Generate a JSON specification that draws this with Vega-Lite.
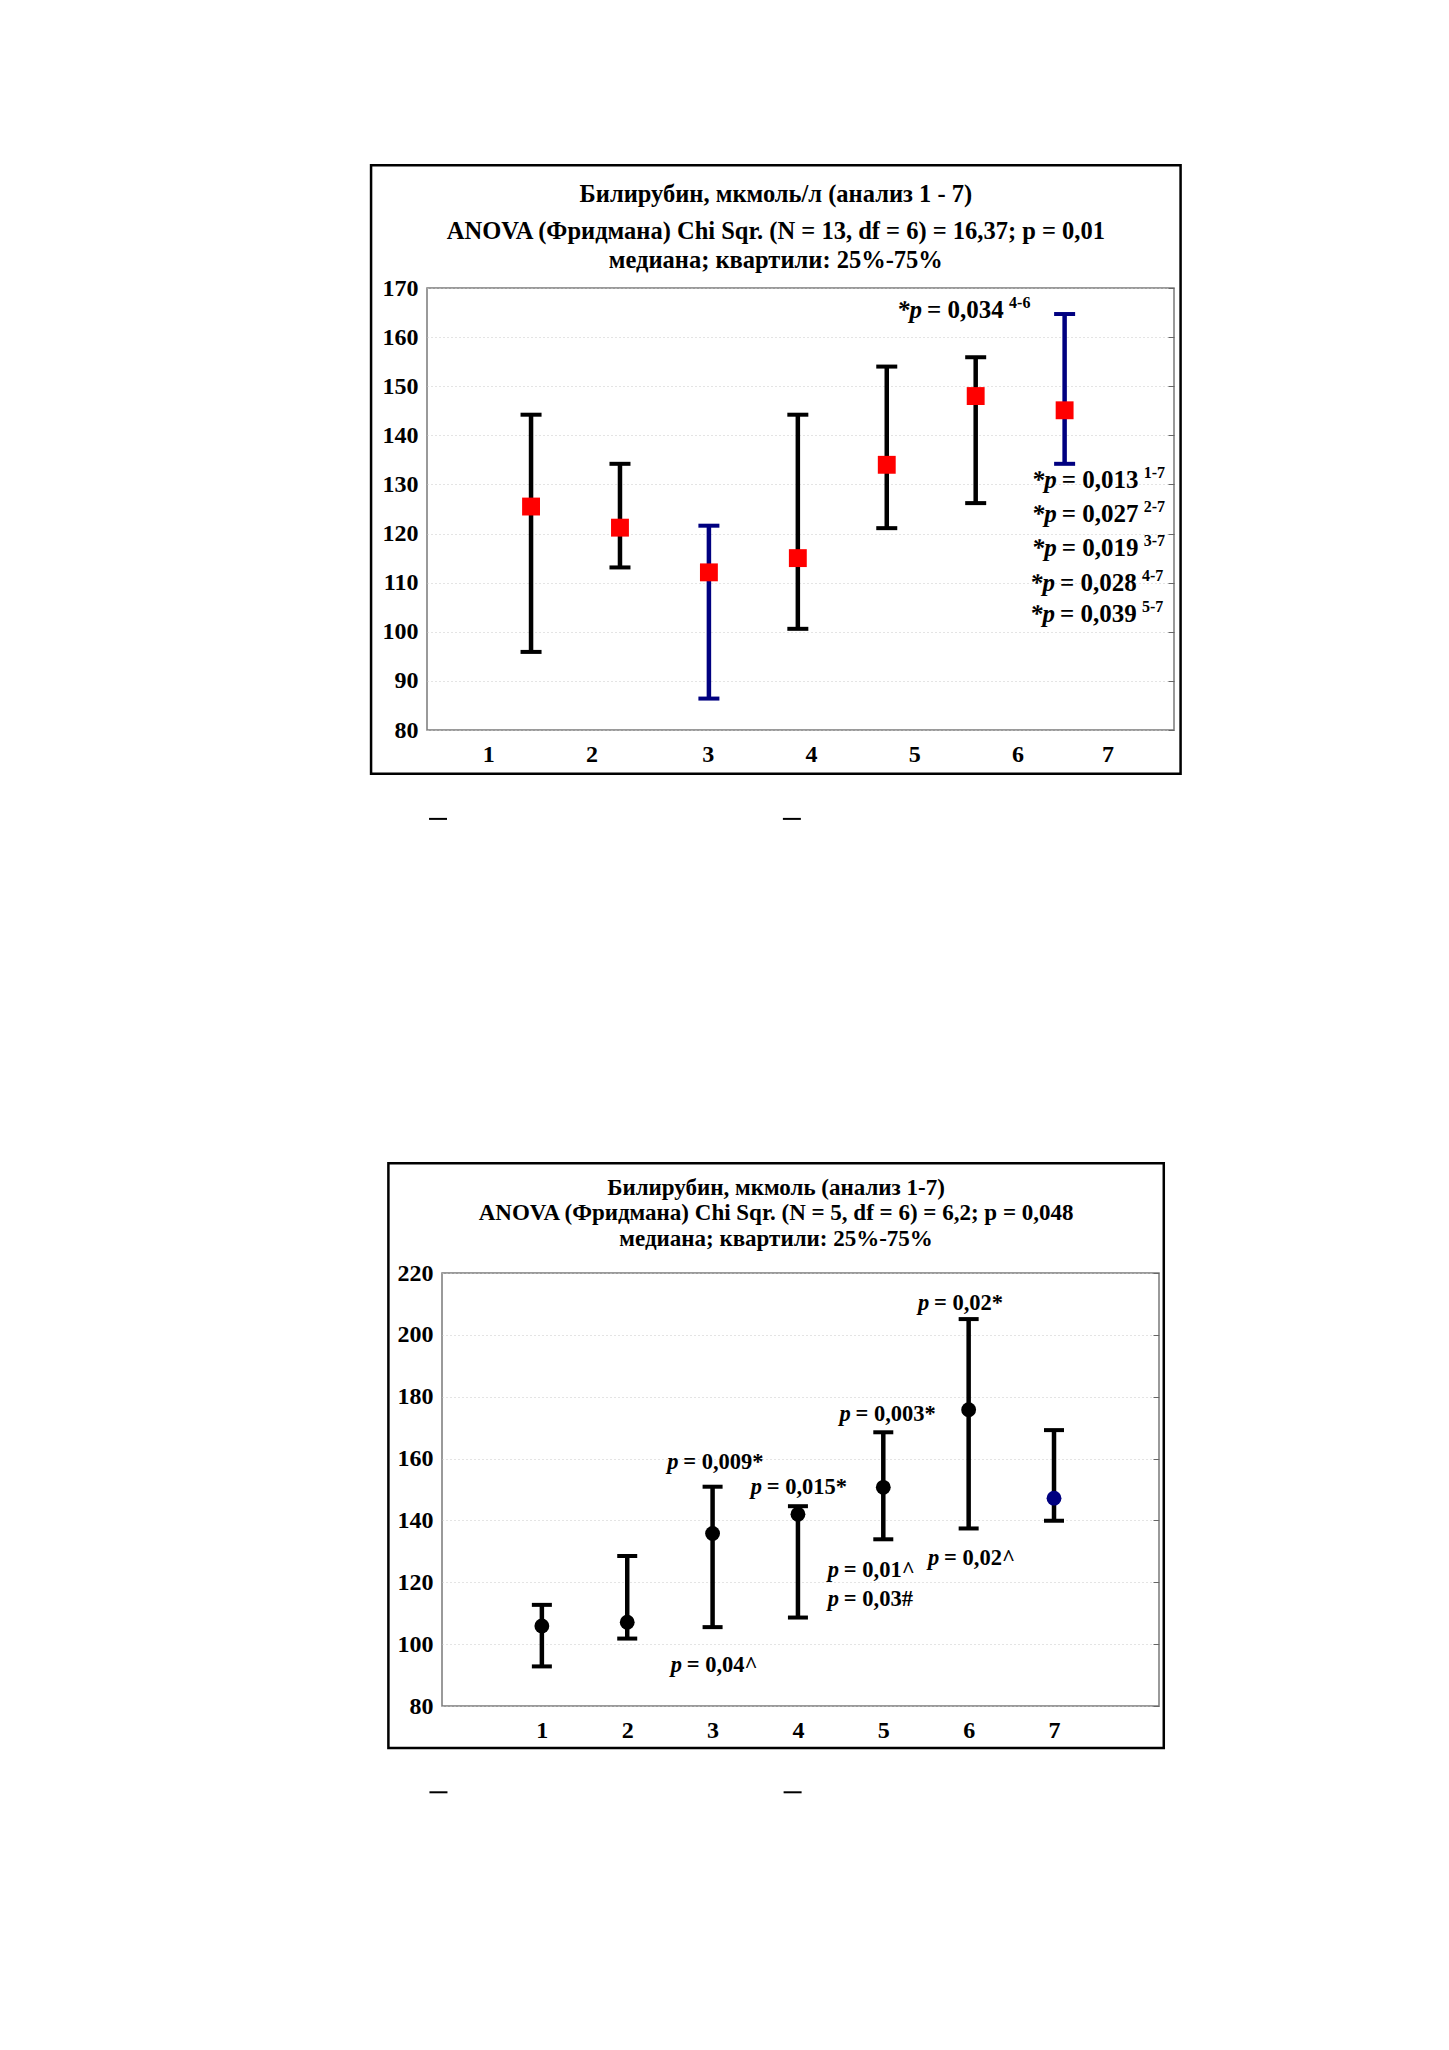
{
  "$schema": "https://vega.github.io/schema/vega-lite/v6.json",
  "background": "#ffffff",
  "autosize": {"type": "pad"},
  "padding": {"left": 369, "top": 163, "right": 10, "bottom": 10},
  "bounds": "flush",
  "center": true,
  "spacing": 543,
  "config": {
    "font": "Liberation Serif",
    "view": {"stroke": "#7a7a7a", "strokeWidth": 1.5},
    "axis": {"labelFont": "Liberation Serif", "labelFontSize": 24, "labelFontWeight": "bold", "labelColor": "#000000", "domain": false, "ticks": false, "grid": false},
    "text": {"font": "Liberation Serif", "fontWeight": "bold", "color": "#000000", "baseline": "middle", "align": "left"}
  },
  "datasets": {
    "topStats": [
      {"g": 1, "lo": 95.9, "med": 125.5, "hi": 144.2, "hl": "no"},
      {"g": 2, "lo": 113.1, "med": 121.2, "hi": 134.2, "hl": "no"},
      {"g": 3, "lo": 86.4, "med": 112.1, "hi": 121.6, "hl": "yes"},
      {"g": 4, "lo": 100.6, "med": 115.0, "hi": 144.2, "hl": "no"},
      {"g": 5, "lo": 121.1, "med": 134.0, "hi": 154.0, "hl": "no"},
      {"g": 6, "lo": 126.2, "med": 148.0, "hi": 155.9, "hl": "no"},
      {"g": 7, "lo": 134.2, "med": 145.1, "hi": 164.7, "hl": "yes"}
    ],
    "topNotes": [
      {"ax": 5.116, "ay": 165.6, "val": "= 0,034", "sup": "4-6"},
      {"ax": 6.63, "ay": 131.0, "val": "= 0,013", "sup": "1-7"},
      {"ax": 6.63, "ay": 124.0, "val": "= 0,027", "sup": "2-7"},
      {"ax": 6.63, "ay": 117.05, "val": "= 0,019", "sup": "3-7"},
      {"ax": 6.61, "ay": 109.9, "val": "= 0,028", "sup": "4-7"},
      {"ax": 6.61, "ay": 103.7, "val": "= 0,039", "sup": "5-7"}
    ],
    "botStats": [
      {"g": 1, "lo": 92.8, "med": 105.9, "hi": 112.7, "hl": "no"},
      {"g": 2, "lo": 101.8, "med": 107.1, "hi": 128.5, "hl": "no"},
      {"g": 3, "lo": 105.5, "med": 135.8, "hi": 150.9, "hl": "no"},
      {"g": 4, "lo": 108.6, "med": 142.0, "hi": 144.6, "hl": "no"},
      {"g": 5, "lo": 133.9, "med": 150.7, "hi": 168.5, "hl": "no"},
      {"g": 6, "lo": 137.4, "med": 175.8, "hi": 205.1, "hl": "no"},
      {"g": 7, "lo": 139.9, "med": 147.2, "hi": 169.2, "hl": "yes"}
    ],
    "botNotes": [
      {"ax": 5.407, "ay": 210.4, "val": "= 0,02*"},
      {"ax": 4.487, "ay": 174.3, "val": "= 0,003*"},
      {"ax": 2.469, "ay": 158.9, "val": "= 0,009*"},
      {"ax": 3.447, "ay": 150.7, "val": "= 0,015*"},
      {"ax": 4.35, "ay": 123.9, "val": "= 0,01^"},
      {"ax": 4.35, "ay": 114.6, "val": "= 0,03#"},
      {"ax": 5.525, "ay": 127.7, "val": "= 0,02^"},
      {"ax": 2.51, "ay": 93.4, "val": "= 0,04^"}
    ]
  },
  "vconcat": [
    {
      "width": 747,
      "height": 442,
      "title": {
        "text": "Билирубин, мкмоль/л (анализ 1 - 7)",
        "subtitle": ["ANOVA (Фридмана) Chi Sqr. (N = 13, df = 6) = 16,37; p = 0,01", "медиана; квартили: 25%-75%"],
        "anchor": "middle", "frame": "bounds",
        "font": "Liberation Serif", "fontSize": 24.5, "fontWeight": "bold", "color": "#000000",
        "subtitleFont": "Liberation Serif", "subtitleFontSize": 24.5, "subtitleFontWeight": "bold", "subtitleColor": "#000000",
        "subtitleLineHeight": 29, "subtitlePadding": 12.5, "offset": -109.5
      },
      "resolve": {"axis": {"y": "independent"}},
      "layer": [
        {
          "data": {"values": [{}]},
          "mark": {"type": "rect", "filled": false, "stroke": "#000000", "strokeWidth": 2.5},
          "encoding": {
            "x": {"datum": -0.799, "type": "quantitative", "title": null, "scale": {"domain": [-0.17, 8.23], "nice": false, "zero": false}},
            "x2": {"datum": 8.304},
            "y": {"datum": 71.1, "type": "quantitative", "title": null, "axis": null, "scale": {"domain": [80, 170], "nice": false, "zero": false}},
            "y2": {"datum": 195.0}
          }
        },
        {
          "data": {"values": [{}]},
          "mark": {"type": "rule", "stroke": "#000000", "strokeWidth": 2},
          "encoding": {
            "x": {"datum": -0.147, "type": "quantitative", "title": null},
            "x2": {"datum": 0.055},
            "y": {"datum": 61.9, "type": "quantitative", "title": null, "axis": null}
          }
        },
        {
          "data": {"values": [{}]},
          "mark": {"type": "rule", "stroke": "#000000", "strokeWidth": 2},
          "encoding": {
            "x": {"datum": 3.832, "type": "quantitative", "title": null},
            "x2": {"datum": 4.034},
            "y": {"datum": 61.9, "type": "quantitative", "title": null, "axis": null}
          }
        },
        {
          "data": {"name": "topStats"},
          "mark": {"type": "rule", "strokeWidth": 4.5},
          "encoding": {
            "x": {"field": "g", "type": "quantitative", "title": null,
              "axis": {"values": [0.518, 1.679, 2.988, 4.149, 5.309, 6.47, 7.483],
                "labelExpr": "datum.value < 1 ? '1' : datum.value < 2 ? '2' : datum.value < 3.5 ? '3' : datum.value < 4.5 ? '4' : datum.value < 5.8 ? '5' : datum.value < 7 ? '6' : '7'",
                "labelPadding": 12, "grid": false, "ticks": false, "domain": false}},
            "y": {"field": "lo", "type": "quantitative", "title": null,
              "axis": {"orient": "left", "values": [80, 90, 100, 110, 120, 130, 140, 150, 160, 170], "labelPadding": 9, "grid": true, "gridColor": "#c8c8c8", "gridDash": [1, 3], "gridWidth": 1, "ticks": false, "domain": false}},
            "y2": {"field": "hi"},
            "color": {"field": "hl", "type": "nominal", "scale": {"domain": ["no", "yes"], "range": ["#000000", "#000080"]}, "legend": null}
          }
        },
        {
          "data": {"name": "topStats"},
          "mark": {"type": "tick", "orient": "horizontal", "size": 21, "thickness": 4, "opacity": 1},
          "encoding": {
            "x": {"field": "g", "type": "quantitative", "title": null},
            "y": {"field": "lo", "type": "quantitative", "title": null,
              "axis": {"orient": "right", "values": [80, 90, 100, 110, 120, 130, 140, 150, 160, 170], "labels": false, "ticks": true, "tickSize": -6, "tickColor": "#666666", "tickWidth": 1, "domain": false, "grid": false}},
            "color": {"field": "hl", "type": "nominal", "legend": null}
          }
        },
        {
          "data": {"name": "topStats"},
          "mark": {"type": "tick", "orient": "horizontal", "size": 21, "thickness": 4, "opacity": 1},
          "encoding": {
            "x": {"field": "g", "type": "quantitative", "title": null},
            "y": {"field": "hi", "type": "quantitative", "title": null, "axis": null},
            "color": {"field": "hl", "type": "nominal", "legend": null}
          }
        },
        {
          "data": {"name": "topStats"},
          "mark": {"type": "point", "shape": "square", "filled": true, "color": "#ff0000", "size": 320, "opacity": 1},
          "encoding": {
            "x": {"field": "g", "type": "quantitative", "title": null},
            "y": {"field": "med", "type": "quantitative", "title": null, "axis": null}
          }
        },
        {
          "data": {"name": "topNotes"},
          "mark": {"type": "text", "text": "*p", "fontStyle": "italic", "fontSize": 25},
          "encoding": {
            "x": {"field": "ax", "type": "quantitative", "title": null},
            "y": {"field": "ay", "type": "quantitative", "title": null, "axis": null}
          }
        },
        {
          "data": {"name": "topNotes"},
          "mark": {"type": "text", "fontSize": 25, "dx": 30},
          "encoding": {
            "x": {"field": "ax", "type": "quantitative", "title": null},
            "y": {"field": "ay", "type": "quantitative", "title": null, "axis": null},
            "text": {"field": "val"}
          }
        },
        {
          "data": {"name": "topNotes"},
          "mark": {"type": "text", "fontSize": 16, "dx": 112, "dy": -7},
          "encoding": {
            "x": {"field": "ax", "type": "quantitative", "title": null},
            "y": {"field": "ay", "type": "quantitative", "title": null, "axis": null},
            "text": {"field": "sup"}
          }
        }
      ]
    },
    {
      "width": 717,
      "height": 433,
      "title": {
        "text": "Билирубин, мкмоль (анализ 1-7)",
        "subtitle": ["ANOVA (Фридмана) Chi Sqr. (N = 5, df = 6) = 6,2; p = 0,048", "медиана; квартили: 25%-75%"],
        "anchor": "middle", "frame": "bounds",
        "font": "Liberation Serif", "fontSize": 23, "fontWeight": "bold", "color": "#000000",
        "subtitleFont": "Liberation Serif", "subtitleFontSize": 23, "subtitleFontWeight": "bold", "subtitleColor": "#000000",
        "subtitleLineHeight": 25.5, "subtitlePadding": 2.5, "offset": -89
      },
      "resolve": {"axis": {"y": "independent"}},
      "layer": [
        {
          "data": {"values": [{}]},
          "mark": {"type": "rect", "filled": false, "stroke": "#000000", "strokeWidth": 2.5},
          "encoding": {
            "x": {"datum": -0.798, "type": "quantitative", "title": null, "scale": {"domain": [-0.17, 8.23], "nice": false, "zero": false}},
            "x2": {"datum": 8.286},
            "y": {"datum": 66.4, "type": "quantitative", "title": null, "axis": null, "scale": {"domain": [80, 220], "nice": false, "zero": false}},
            "y2": {"datum": 255.5}
          }
        },
        {
          "data": {"values": [{}]},
          "mark": {"type": "rule", "stroke": "#000000", "strokeWidth": 2},
          "encoding": {
            "x": {"datum": -0.317, "type": "quantitative", "title": null},
            "x2": {"datum": -0.106},
            "y": {"datum": 52.1, "type": "quantitative", "title": null, "axis": null}
          }
        },
        {
          "data": {"values": [{}]},
          "mark": {"type": "rule", "stroke": "#000000", "strokeWidth": 2},
          "encoding": {
            "x": {"datum": 3.832, "type": "quantitative", "title": null},
            "x2": {"datum": 4.043},
            "y": {"datum": 52.1, "type": "quantitative", "title": null, "axis": null}
          }
        },
        {
          "data": {"name": "botStats"},
          "mark": {"type": "rule", "strokeWidth": 4.5, "color": "#000000"},
          "encoding": {
            "x": {"field": "g", "type": "quantitative", "title": null,
              "axis": {"values": [1, 2, 3, 4, 5, 6, 7], "format": "d", "labelPadding": 12, "grid": false, "ticks": false, "domain": false}},
            "y": {"field": "lo", "type": "quantitative", "title": null,
              "axis": {"orient": "left", "values": [80, 100, 120, 140, 160, 180, 200, 220], "labelPadding": 9, "grid": true, "gridColor": "#c8c8c8", "gridDash": [1, 3], "gridWidth": 1, "ticks": false, "domain": false}},
            "y2": {"field": "hi"}
          }
        },
        {
          "data": {"name": "botStats"},
          "mark": {"type": "tick", "orient": "horizontal", "size": 20, "thickness": 4, "opacity": 1, "color": "#000000"},
          "encoding": {
            "x": {"field": "g", "type": "quantitative", "title": null},
            "y": {"field": "lo", "type": "quantitative", "title": null,
              "axis": {"orient": "right", "values": [80, 100, 120, 140, 160, 180, 200, 220], "labels": false, "ticks": true, "tickSize": -6, "tickColor": "#666666", "tickWidth": 1, "domain": false, "grid": false}}
          }
        },
        {
          "data": {"name": "botStats"},
          "mark": {"type": "tick", "orient": "horizontal", "size": 20, "thickness": 4, "opacity": 1, "color": "#000000"},
          "encoding": {
            "x": {"field": "g", "type": "quantitative", "title": null},
            "y": {"field": "hi", "type": "quantitative", "title": null, "axis": null}
          }
        },
        {
          "data": {"name": "botStats"},
          "mark": {"type": "point", "shape": "circle", "filled": true, "size": 220, "opacity": 1},
          "encoding": {
            "x": {"field": "g", "type": "quantitative", "title": null},
            "y": {"field": "med", "type": "quantitative", "title": null, "axis": null},
            "color": {"field": "hl", "type": "nominal", "scale": {"domain": ["no", "yes"], "range": ["#000000", "#000080"]}, "legend": null}
          }
        },
        {
          "data": {"name": "botNotes"},
          "mark": {"type": "text", "text": "p", "fontStyle": "italic", "fontSize": 22.5},
          "encoding": {
            "x": {"field": "ax", "type": "quantitative", "title": null},
            "y": {"field": "ay", "type": "quantitative", "title": null, "axis": null}
          }
        },
        {
          "data": {"name": "botNotes"},
          "mark": {"type": "text", "fontSize": 22.5, "dx": 16},
          "encoding": {
            "x": {"field": "ax", "type": "quantitative", "title": null},
            "y": {"field": "ay", "type": "quantitative", "title": null, "axis": null},
            "text": {"field": "val"}
          }
        }
      ]
    }
  ]
}
